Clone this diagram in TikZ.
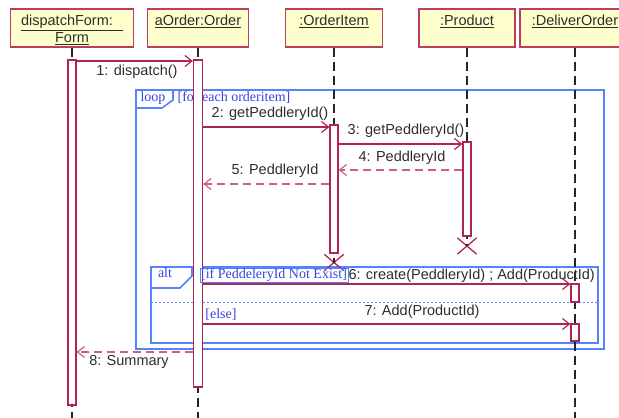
\documentclass[tikz,border=0pt]{standalone}
\usepackage{fontspec}
\setmainfont{Liberation Sans}
\newfontfamily\guardfont{Liberation Serif}
\usetikzlibrary{arrows.meta,shapes.misc}

\definecolor{umlred}{RGB}{176,36,80}
\definecolor{retred}{RGB}{205,95,130}
\definecolor{hdrfill}{RGB}{255,255,204}
\definecolor{hdrline}{RGB}{190,60,95}
\definecolor{framebl}{RGB}{85,130,255}
\definecolor{guardbl}{RGB}{55,65,230}
\definecolor{txtgray}{RGB}{45,45,45}

\begin{document}
\begin{tikzpicture}[x=1pt,y=-1pt,
  hdr/.style={draw=hdrline, line width=1.4pt, fill=hdrfill, inner sep=0pt, minimum height=38pt},
  hdrtext/.style={font=\fontsize{14.5}{17}\selectfont, text=txtgray, inner sep=0pt, align=center},
  actbar/.style={draw=umlred, line width=1.2pt, fill=white, minimum width=8pt, inner sep=0pt},
  lifeline/.style={draw=black!85, line width=1.3pt, dash pattern=on 9pt off 5pt},
  msg/.style={draw=umlred, line width=1.2pt, -{Straight Barb[length=7pt,width=11pt]}},
  reply/.style={msg, draw=retred, dash pattern=on 8pt off 5pt},
  lbl/.style={font=\fontsize{14.5}{17}\selectfont, text=txtgray, inner sep=0pt, text height=10.5pt, text depth=3pt},
  frame/.style={draw=framebl, line width=1.6pt},
  btext/.style={font=\guardfont\fontsize{14}{16}\selectfont, text=guardbl, inner sep=0pt, text height=9.5pt, text depth=3pt},
  destroy/.style={draw=umlred, line width=1.3pt, cross out, minimum width=18pt, minimum height=15pt, inner sep=0pt}
]
\useasboundingbox (0,0) rectangle (619,418);
\clip (0,0) rectangle (619,418);

% combined fragments
\draw[frame] (136,90) rectangle (604,349);
\draw[frame] (136,108) -- (162,108) -- (173,100) -- (173,90);
\node[btext] (looplbl) at (153,98) {loop};
\node[btext] (loopguard) at (234,98) {[for each orderitem]};

\draw[frame] (151,267) rectangle (598,343);
\draw[frame] (151,288) -- (180,288) -- (192,276) -- (192,267);
\node[btext] (altlbl) at (165,274) {alt};
\draw[draw=framebl, line width=1pt, dash pattern=on 2pt off 2pt] (151,302) -- (598,302);
\node[btext] (elseguard) at (221,315) {[else]};

% object headers
\node[hdr, minimum width=123pt] (form) at (72,28) {};
\node[hdrtext] at (72,30) {\underline{dispatchForm:\hspace{10pt}}\\\underline{Form}};
\node[hdr, minimum width=101pt] (order) at (198,28) {};
\node[hdrtext] at (198,21) {\underline{aOrder:Order}};
\node[hdr, minimum width=97pt] (oi) at (334,28) {};
\node[hdrtext] at (334,21) {\underline{:OrderItem}};
\node[hdr, minimum width=96pt] (prod) at (467,28) {};
\node[hdrtext] at (467,21) {\underline{:Product}};
\node[hdr, minimum width=110pt] (del) at (575,28) {};
\node[hdrtext] at (575,21) {\underline{:DeliverOrder}};

% lifelines
\coordinate (formend) at (72,418);
\coordinate (orderend) at (198,418);
\coordinate (delend) at (575,418);
\node[destroy] (oix) at (334,262.5) {};
\node[destroy] (prodx) at (467,246) {};
\draw[lifeline] (form.south) -- (formend);
\draw[lifeline] (order.south) -- (orderend);
\draw[lifeline] (oi.south) -- (oix.center);
\draw[lifeline] (prod.south) -- (prodx.center);
\draw[lifeline] (del.south) -- (delend);

% activation bars
\node[actbar, minimum height=345pt] (formbar) at (72,232.5) {};
\node[actbar, minimum width=9pt, minimum height=327pt] (orderbar) at (198,223.5) {};
\node[actbar, minimum height=128pt] (oibar) at (334,189) {};
\node[actbar, minimum height=94pt] (prodbar) at (467,189) {};
\node[actbar, minimum height=18pt] (delbar1) at (575,293) {};
\node[actbar, minimum height=17pt] (delbar2) at (575,332.5) {};

% messages
\draw[msg] (formbar.east |- 0,61) -- (orderbar.west |- 0,61);
\node[lbl] at (137,71.5) {1: dispatch()};

\draw[msg] (orderbar.east |- 0,127) -- (oibar.west |- 0,127);
\node[lbl] at (270,114) {2: getPeddleryId()};

\draw[msg] (oibar.east |- 0,144) -- (prodbar.west |- 0,144);
\node[lbl] at (406,131) {3: getPeddleryId()};

\draw[reply] (prodbar.west |- 0,170) -- (oibar.east |- 0,170);
\node[lbl] at (402,158) {4: PeddleryId};

\draw[reply] (oibar.west |- 0,184) -- (orderbar.east |- 0,184);
\node[lbl] at (275,171) {5: PeddleryId};

\node[btext, draw=framebl, line width=0.8pt, inner xsep=1pt, inner ysep=1pt] (ifguard) at (274,275.5) {[if PeddeleryId Not Exist]};
\draw[msg] (orderbar.east |- 0,284) -- (delbar1.west |- 0,284);
\node[lbl, anchor=west] at (ifguard.east) {6: create(PeddleryId) ; Add(ProductId)};

\draw[msg] (orderbar.east |- 0,324) -- (delbar2.west |- 0,324);
\node[lbl] at (422,312) {7: Add(ProductId)};

\draw[reply] (orderbar.west |- 0,352) -- (formbar.east |- 0,352);
\node[lbl] at (129,362) {8: Summary};
\end{tikzpicture}
\end{document}
